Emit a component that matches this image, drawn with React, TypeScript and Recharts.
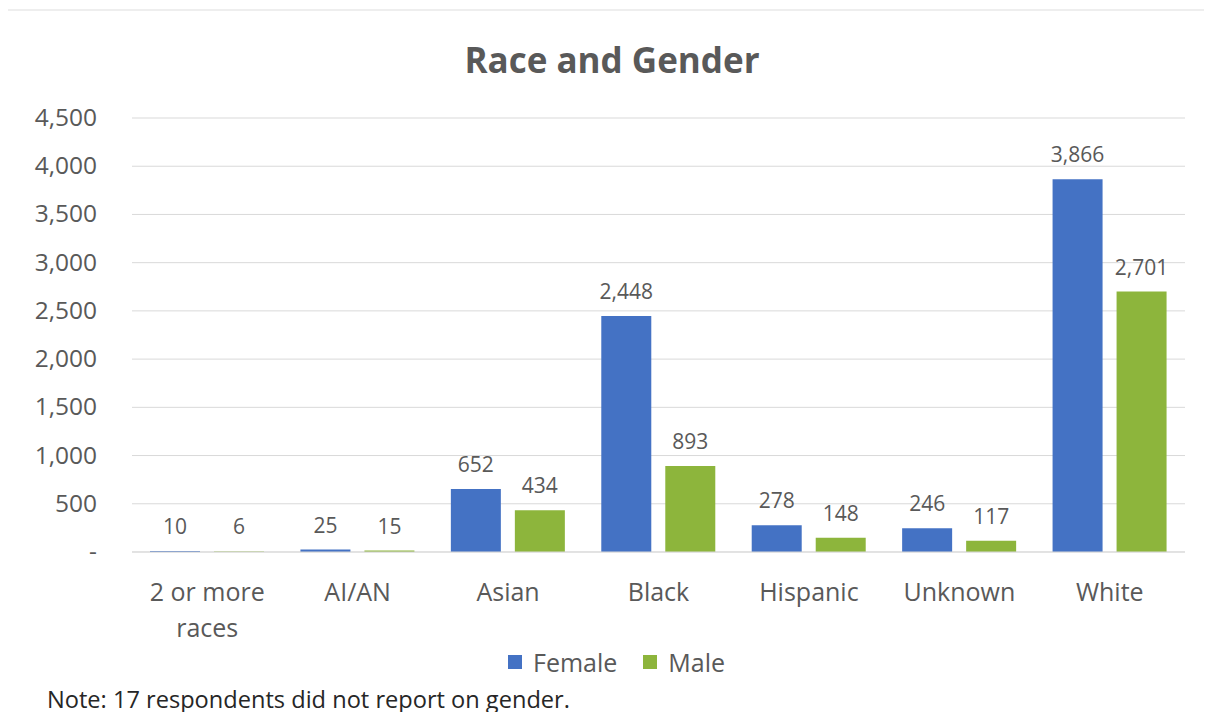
import React from "react";
import { BarChart, Bar, XAxis, YAxis, CartesianGrid, LabelList } from "recharts";

const categories = ["2 or more races", "AI/AN", "Asian", "Black", "Hispanic", "Unknown", "White"];
const female = [10, 25, 652, 2448, 278, 246, 3866];
const male = [6, 15, 434, 893, 148, 117, 2701];
const yTicks = [0, 500, 1000, 1500, 2000, 2500, 3000, 3500, 4000, 4500];

const data = categories.map((c, i) => ({ name: c, Female: female[i], Male: male[i] }));

const FONT = "'Open Sans', 'Liberation Sans', sans-serif";
const GRAY = "#595959";
const BLUE = "#4472C4";
const GREEN = "#8DB53C";

const fmt = (v: number) => (v === 0 ? "-" : v.toLocaleString("en-US"));

const YTick = (props: any) => {
  const { y, payload } = props;
  return (
    <text x={97} y={y} dy={8} textAnchor="end" fill={GRAY} fontSize={24.5} fontFamily={FONT}>
      {fmt(payload.value)}
    </text>
  );
};

const XTick = (props: any) => {
  const { x, y, payload } = props;
  const label: string = payload.value;
  const lines = label === "2 or more races" ? ["2 or more", "races"] : [label];
  return (
    <g>
      {lines.map((l, i) => (
        <text key={i} x={x} y={y + 32 + i * 36} dy={9} textAnchor="middle" fill={GRAY} fontSize={25} fontFamily={FONT}>
          {l}
        </text>
      ))}
    </g>
  );
};

export default function App() {
  return (
    <div style={{ margin: -8, width: 1212, height: 720, position: "relative", background: "#fff", overflow: "hidden" }}>
      <div style={{ position: "absolute", left: 5, top: 9, width: 1212, height: 720, borderLeft: "2px solid #eeeeee", borderTop: "2px solid #eeeeee", boxSizing: "border-box" }} />
      <div
        style={{
          position: "absolute",
          top: 36,
          left: 0,
          width: 1224,
          textAlign: "center",
          fontFamily: FONT,
          fontWeight: 700,
          fontSize: 35,
          lineHeight: "48px",
          color: GRAY,
        }}
      >
        Race and Gender
      </div>
      <div style={{ position: "absolute", top: 0, left: 0 }}>
        <BarChart
          width={1212}
          height={720}
          data={data}
          margin={{ top: 118, right: 27, bottom: 138, left: 32 }}
          barGap={14}
          barSize={50}
        >
          <CartesianGrid vertical={false} stroke="#d9d9d9" />
          <YAxis
            width={100}
            domain={[0, 4500]}
            ticks={yTicks}
            axisLine={false}
            tickLine={false}
            tick={<YTick />}
            tickMargin={0}
            interval={0}
          />
          <XAxis dataKey="name" axisLine={{ stroke: "#d9d9d9" }} tickLine={false} tick={<XTick />} interval={0} height={30} />
          <Bar dataKey="Female" fill={BLUE} isAnimationActive={false}>
            <LabelList dataKey="Female" position="top" offset={17} fill={GRAY} fontSize={21} fontFamily={FONT} formatter={(v: any) => fmt(Number(v))} />
          </Bar>
          <Bar dataKey="Male" fill={GREEN} isAnimationActive={false}>
            <LabelList dataKey="Male" position="top" offset={17} fill={GRAY} fontSize={21} fontFamily={FONT} formatter={(v: any) => fmt(Number(v))} />
          </Bar>
        </BarChart>
      </div>
      <div style={{ position: "absolute", top: 645, left: 508, display: "flex", alignItems: "center", fontFamily: FONT, fontSize: 25, color: GRAY, lineHeight: "34px" }}>
        <span style={{ display: "inline-block", width: 14, height: 14, background: BLUE, marginRight: 11 }} />
        <span style={{ marginRight: 26 }}>Female</span>
        <span style={{ display: "inline-block", width: 14, height: 14, background: GREEN, marginRight: 11 }} />
        <span>Male</span>
      </div>
      <div style={{ position: "absolute", top: 683, left: 47, fontFamily: FONT, fontSize: 23.6, color: "#262626", lineHeight: "32px" }}>
        Note: 17 respondents did not report on gender.
      </div>
    </div>
  );
}
